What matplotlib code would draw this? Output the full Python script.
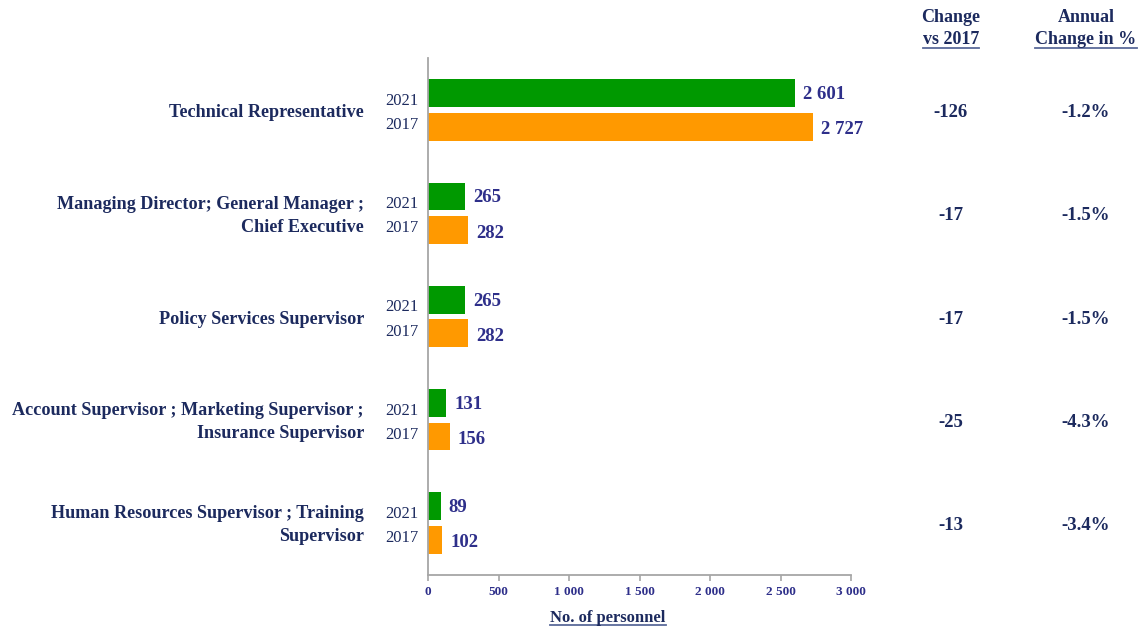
import matplotlib
matplotlib.use("Agg")
import matplotlib.pyplot as plt
from matplotlib.lines import Line2D
import numpy as np

categories = ["Technical Representative",
              "Managing Director; General Manager ;\nChief Executive",
              "Policy Services Supervisor",
              "Account Supervisor ; Marketing Supervisor ;\nInsurance Supervisor",
              "Human Resources Supervisor ; Training\nSupervisor"]
v2021 = [2601, 265, 265, 131, 89]
v2017 = [2727, 282, 282, 156, 102]
change = ["-126", "-17", "-17", "-25", "-13"]
annual = ["-1.2%", "-1.5%", "-1.5%", "-4.3%", "-3.4%"]
xticks = [0, 500, 1000, 1500, 2000, 2500, 3000]

FONT = "Liberation Serif"
NAVY = "#1c2a5e"
VAL = "#2e2f8a"
GREEN = "#009900"
ORANGE = "#ff9900"
GRAY = "#a6a6a6"

W, H = 1144, 629
fig = plt.figure(figsize=(W / 100, H / 100), dpi=100)
ax = fig.add_axes([428 / W, 1 - 574.5 / H, 423 / W, 516 / H])

y = np.arange(len(categories))
bh = 0.27
off = 0.163
ax.barh(y - off, v2021, height=bh, color=GREEN)
ax.barh(y + off, v2017, height=bh, color=ORANGE)
ax.set_ylim(len(categories) - 0.5, -0.5)
ax.set_xlim(0, 3000)

for s in ["top", "right"]:
    ax.spines[s].set_visible(False)
for s in ["left", "bottom"]:
    ax.spines[s].set_color(GRAY)
    ax.spines[s].set_linewidth(1.3)
ax.set_yticks([])
ax.set_xticks(xticks)
ax.set_xticklabels([f"{t:,}".replace(",", " ") for t in xticks],
                   fontfamily=FONT, fontweight="bold", fontsize=9.5, color=VAL)
ax.tick_params(axis="x", length=4, color=GRAY, width=1.2, pad=4)

px = 3000 / 423.0  # data units per pixel
py = 1 / 103.0     # y data units per pixel
for i in range(len(categories)):
    ax.text(v2021[i] + 8 * px, y[i] - off + 1.5 * py, f"{v2021[i]:,}".replace(",", " "),
            va="center", ha="left", fontfamily=FONT, fontweight="bold",
            fontsize=13.5, color=VAL)
    ax.text(v2017[i] + 8 * px, y[i] + off + 3 * py, f"{v2017[i]:,}".replace(",", " "),
            va="center", ha="left", fontfamily=FONT, fontweight="bold",
            fontsize=13.5, color=VAL)
    ax.text(-10 * px, y[i] - 9 * py, "2021", va="center", ha="right",
            fontfamily=FONT, fontsize=12, color=NAVY, clip_on=False)
    ax.text(-10 * px, y[i] + 15 * py, "2017", va="center", ha="right",
            fontfamily=FONT, fontsize=12, color=NAVY, clip_on=False)
    ax.text(-64 * px, y[i] + 2.5 * py, categories[i], va="center", ha="right",
            multialignment="right", linespacing=1.45,
            fontfamily=FONT, fontweight="bold", fontsize=13.1, color=NAVY,
            clip_on=False)
    ax.text((951 - 428) * px, y[i] + 2.5 * py, change[i], va="center", ha="center",
            fontfamily=FONT, fontweight="bold", fontsize=13.5, color=NAVY,
            clip_on=False)
    ax.text((1086 - 428) * px, y[i] + 2.5 * py, annual[i], va="center", ha="center",
            fontfamily=FONT, fontweight="bold", fontsize=13.5, color=NAVY,
            clip_on=False)

underlined = []
def ftext(xp, yp, s, underline=False, **kw):
    t = fig.text(xp / W, 1 - yp / H, s, ha="center", va="center",
                 fontfamily=FONT, fontweight="bold", color=NAVY, **kw)
    if underline:
        underlined.append(t)
    return t

ftext(951, 17, "Change", fontsize=13)
ftext(951, 40, "vs 2017", underline=True, fontsize=13)
ftext(1086, 17, "Annual", fontsize=13)
ftext(1086, 40, "Change in %", underline=True, fontsize=13)
ftext(608, 618, "No. of personnel", underline=True, fontsize=12)

fig.canvas.draw()
r = fig.canvas.get_renderer()
for t in underlined:
    bb = t.get_window_extent(r)
    yline = bb.y0 + 1
    fig.add_artist(Line2D([bb.x0 / W, bb.x1 / W], [yline / H, yline / H],
                          transform=fig.transFigure, color="#5a6a9a", lw=1.3))

fig.savefig("out.png", dpi=100)
